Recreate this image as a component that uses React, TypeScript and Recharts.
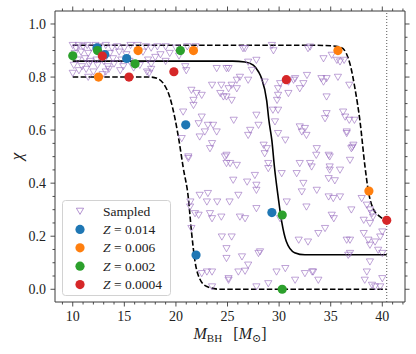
import React from 'react';
import { ComposedChart, XAxis, YAxis, Scatter, Line, ReferenceLine, Legend } from 'recharts';

type P = [number, number];

const sampled: P[] = [
  [10.0,0.92],[10.3,0.91],[10.6,0.92],[11.0,0.915],[11.4,0.92],[11.8,0.91],[12.2,0.92],[12.6,0.915],[13.2,0.92],[13.8,0.91],[14.3,0.915],[15.0,0.91],[15.6,0.92],[16.3,0.92],[17.1,0.915],[17.6,0.91],[18.2,0.915],[19.0,0.915],[20.0,0.91],[21.1,0.915],[21.9,0.915],
  [10.2,0.89],[10.8,0.895],[11.5,0.89],[13.6,0.89],[14.5,0.895],[15.2,0.885],[16.8,0.895],[18.5,0.885],[19.4,0.89],[20.3,0.88],
  [10.5,0.865],[11.2,0.87],[11.7,0.86],[12.3,0.865],[13.0,0.86],[13.9,0.87],[14.7,0.865],[15.5,0.86],[17.3,0.865],[18.0,0.875],[19.0,0.86],
  [10.1,0.845],[10.9,0.84],[11.6,0.85],[12.4,0.845],[13.4,0.84],[14.0,0.85],[14.9,0.84],[16.5,0.845],[17.6,0.85],
  [10.0,0.815],[10.6,0.825],[11.3,0.83],[12.0,0.82],[13.2,0.82],[13.5,0.83],[14.6,0.825],[17.2,0.82],[17.6,0.83],[17.4,0.815],[15.9,0.835],
  [11.5,0.80],[12.9,0.81],[20.9,0.84],[21.0,0.825],
  [23.95,0.833],[24.9,0.833],[21.5,0.751],[22.0,0.739],[22.5,0.732],[21.7,0.713],[21.7,0.694],[23.5,0.77],[24.4,0.77],[24.3,0.739],[24.6,0.726],[25.1,0.757],[20.7,0.669],[22.5,0.65],[22.2,0.625],[23.1,0.619],[23.6,0.619],[23.95,0.594],[22.8,0.594],[22.3,0.575],[23.5,0.55],[23.3,0.531],[20.56,0.569],[21.2,0.494],[24.75,0.5],[24.9,0.475],
  [26.7,0.908],[29.3,0.92],[29.45,0.90],[32.8,0.908],[25.1,0.833],[27.0,0.857],[27.8,0.864],[27.35,0.826],[26.2,0.80],[25.9,0.789],[25.4,0.77],[27.0,0.789],[28.6,0.782],[25.9,0.757],[24.9,0.726],[25.4,0.713],[31.55,0.795],[32.7,0.807],[32.35,0.776],[32.0,0.757],[30.1,0.776],[29.9,0.757],[30.9,0.739],[29.9,0.732],[29.4,0.676],[29.6,0.632],[27.8,0.657],[28.0,0.619],[25.6,0.638],[27.2,0.60],[27.0,0.581],[29.9,0.588],[30.6,0.563],[32.0,0.613],[32.5,0.607],[32.2,0.594],[32.65,0.581],[28.5,0.544],[28.8,0.531],[28.6,0.512],[24.9,0.506],[25.25,0.475],[25.9,0.468],[28.95,0.475],[33.0,0.475],
  [33.0,0.914],[34.3,0.87],[35.1,0.883],[35.6,0.864],[36.3,0.864],[34.1,0.795],[34.3,0.782],[34.6,0.795],[35.7,0.80],[36.8,0.77],[34.6,0.726],[34.6,0.663],[34.45,0.644],[36.2,0.669],[36.4,0.65],[36.8,0.638],[37.3,0.638],[36.55,0.594],[37.2,0.544],[37.0,0.531],[33.6,0.506],[34.8,0.506],[34.9,0.50],[36.87,0.487],[34.9,0.462],
  [30.9,0.782],[31.4,0.789],[35.9,0.858],[26.5,0.908],[29.8,0.713],[29.9,0.676],[31.7,0.437],[32.35,0.40],[33.65,0.531],[36.55,0.588],[37.1,0.536],[35.9,0.45],[32.0,0.475],[33.15,0.462],[33.65,0.374],
  [21.2,0.50],[25.55,0.412],[26.9,0.405],[27.65,0.43],[27.8,0.393],[27.8,0.374],[26.05,0.355],[22.3,0.355],[23.1,0.362],[21.4,0.33],[23.0,0.33],[24.0,0.33],[25.2,0.33],[21.85,0.286],[23.3,0.286],[24.4,0.273],[26.2,0.273],[27.8,0.305],[26.7,0.267],
  [30.25,0.437],[28.95,0.456],[32.2,0.368],[30.74,0.33],[32.65,0.311],[30.1,0.267],[25.4,0.198],[24.9,0.154],[28.15,0.142],[31.9,0.186],[32.8,0.179],[26.4,0.123],[27.0,0.092],[26.05,0.066],[26.7,0.069],[25.1,0.041],[29.75,0.066],[30.6,0.079],[31.55,0.035],[32.5,0.06],[33.2,0.066],[27.8,0.01],[28.95,0.022],[24.9,0.117],[28.0,0.136],
  [21.37,0.311],[22.2,0.28],[23.5,0.267],[21.5,0.23],[24.45,0.198],[23.0,0.066],[23.5,0.066],[22.5,0.06],[23.5,0.01],[25.1,0.035],
  [34.9,0.45],[35.4,0.41],[34.8,0.349],[35.9,0.349],[38.0,0.343],[38.5,0.318],[38.8,0.30],[39.0,0.286],[37.0,0.30],[35.1,0.28],[35.3,0.267],[38.2,0.261],[38.8,0.249],[34.45,0.23],[33.8,0.211],[38.2,0.211],[40.0,0.217],[39.8,0.198],[36.55,0.186],[36.87,0.186],[38.65,0.186],[39.3,0.179],[38.8,0.167],[39.6,0.148],[40.0,0.136],[36.87,0.136],[38.8,0.104],[33.3,0.066],[38.5,0.066],[38.3,0.035],[33.8,0.035],[40.0,0.041],[39.0,0.016],[39.3,0.01],[34.8,0.418],[35.25,0.343],[39.1,0.273],[36.7,0.129],[39.8,0.01],
];

const z014: P[] = [[12.35,0.91],[13.1,0.885],[15.23,0.87],[20.95,0.62],[29.3,0.289],[21.95,0.129]];
const z006: P[] = [[12.5,0.80],[16.33,0.90],[21.7,0.90],[35.7,0.90],[38.7,0.37]];
const z002: P[] = [[10.0,0.88],[12.4,0.90],[16.04,0.85],[20.43,0.90],[30.3,0.28],[30.3,0.0]];
const z0004: P[] = [[12.87,0.879],[15.45,0.80],[19.8,0.82],[30.7,0.79],[40.43,0.26]];

const upperCurve: P[] = [[10,0.92],[33,0.92],[35,0.918],[36,0.912],[36.5,0.89],[36.9,0.845],[37.35,0.757],[37.85,0.63],[38.3,0.47],[38.65,0.37],[39.1,0.305],[39.8,0.273],[40.43,0.26]];
const middleCurve: P[] = [[10,0.86],[25.5,0.86],[26.7,0.857],[27.5,0.845],[28.0,0.82],[28.3,0.795],[28.8,0.71],[29.0,0.64],[29.3,0.56],[29.55,0.46],[29.9,0.35],[30.25,0.255],[30.7,0.18],[31.5,0.138],[32.5,0.13],[40.43,0.13]];
const lowerCurve: P[] = [[10,0.80],[17.5,0.80],[18.3,0.793],[18.8,0.775],[19.4,0.725],[19.9,0.645],[20.3,0.56],[20.7,0.46],[21.2,0.345],[21.5,0.22],[21.85,0.105],[22.3,0.04],[23.0,0.01],[24.3,0.0],[40.43,0.0]];

const maxMass = 40.43;
const xDomain: [number, number] = [8.28, 42.2];
const yDomain: [number, number] = [-0.048, 1.049];
const xMajor = [10, 15, 20, 25, 30, 35, 40];
const xTicks = [9,10,11,12,13,14,15,16,17,18,19,20,21,22,23,24,25,26,27,28,29,30,31,32,33,34,35,36,37,38,39,40,41,42];
const yMajor = [0, 0.2, 0.4, 0.6, 0.8, 1.0];
const yTicks = [0,0.05,0.1,0.15,0.2,0.25,0.3,0.35,0.4,0.45,0.5,0.55,0.6,0.65,0.7,0.75,0.8,0.85,0.9,0.95,1.0];

const legendItems = [
  { label: 'Sampled', kind: 'tri', color: '#9467bd' },
  { label: '0.014', kind: 'dot', color: '#1f77b4' },
  { label: '0.006', kind: 'dot', color: '#ff7f0e' },
  { label: '0.002', kind: 'dot', color: '#2ca02c' },
  { label: '0.0004', kind: 'dot', color: '#d62728' },
];

const toObj = (a: P[]) => a.map(([x, y]) => ({ x, y }));

const FONT = '"Liberation Serif", "DejaVu Serif", serif';
const fs = (size: number, italic = false) => ({ fontFamily: FONT, fontSize: size, fontStyle: italic ? 'italic' : 'normal' });
const AX = '#3a3a3a';
const TRI = '#9467bd';

const isMajor = (v: number, list: number[]) => list.some((m) => Math.abs(m - v) < 1e-6);

const BottomTick = (p: any) => {
  const { x, y, payload } = p;
  const major = isMajor(payload.value, xMajor);
  return (
    <g>
      <line x1={x} x2={x} y1={y} y2={y + (major ? 4.5 : 2.5)} stroke={AX} strokeWidth={0.9} />
      {major && (
        <text x={x} y={y + 19} textAnchor="middle" style={fs(14)} fill="#222">{payload.value}</text>
      )}
    </g>
  );
};
const TopTick = (p: any) => {
  const { x, y, payload } = p;
  const major = isMajor(payload.value, xMajor);
  return <line x1={x} x2={x} y1={y} y2={y - (major ? 4.5 : 2.5)} stroke={AX} strokeWidth={0.9} />;
};
const LeftTick = (p: any) => {
  const { x, y, payload } = p;
  const major = isMajor(payload.value, yMajor);
  return (
    <g>
      <line x1={x} x2={x - (major ? 4.5 : 2.5)} y1={y} y2={y} stroke={AX} strokeWidth={0.9} />
      {major && (
        <text x={x - 9} y={y + 4.6} textAnchor="end" style={fs(14)} fill="#222">{payload.value.toFixed(1)}</text>
      )}
    </g>
  );
};
const RightTick = (p: any) => {
  const { x, y, payload } = p;
  const major = isMajor(payload.value, yMajor);
  return <line x1={x} x2={x + (major ? 4.5 : 2.5)} y1={y} y2={y} stroke={AX} strokeWidth={0.9} />;
};

const TriShape = (p: any) => {
  const { cx, cy } = p;
  if (cx == null || cy == null) return null;
  const w = 3.6;
  return (
    <path
      d={`M${cx - w},${cy - 2.8} L${cx + w},${cy - 2.8} L${cx},${cy + 3.4} Z`}
      fill="none"
      stroke={TRI}
      strokeOpacity={0.6}
      strokeWidth={1}
    />
  );
};

const dotShape = (color: string) => (p: any) => {
  const { cx, cy } = p;
  if (cx == null || cy == null) return null;
  return <circle cx={cx} cy={cy} r={4.6} fill={color} />;
};

const XLabel = (p: any) => {
  const vb = p.viewBox || { x: 55, y: 302, width: 350, height: 52 };
  const cx = vb.x + vb.width / 2;
  const y = vb.y + 37;
  return (
    <text x={cx} y={y} textAnchor="middle" style={fs(16)} fill="#222">
      <tspan style={fs(16, true)}>M</tspan>
      <tspan style={fs(11)} dy={3}>BH</tspan>
      <tspan dy={-3}>{'\u2002\u2009['}</tspan>
      <tspan style={fs(16, true)}>M</tspan>
      <tspan style={fs(11)} dy={3}>{'\u2299'}</tspan>
      <tspan dy={-3}>]</tspan>
    </text>
  );
};

const YLabel = (p: any) => {
  const vb = p.viewBox || { x: 0, y: 11, width: 55, height: 291 };
  const cy = vb.y + vb.height / 2;
  const x = 22;
  return (
    <text x={x} y={cy} textAnchor="middle" style={fs(17, true)} fill="#222" transform={`rotate(-90, ${x}, ${cy})`}>
      χ
    </text>
  );
};

const LegendBox = () => (
  <svg width={110} height={97} style={{ display: 'block' }}>
    <rect x={0.5} y={0.5} width={108} height={95} rx={3} ry={3} fill="rgba(255,255,255,0.85)" stroke="#d2d2d2" strokeWidth={1} />
    {legendItems.map((it, i) => {
      const cy = 11 + i * 18.4;
      return (
        <g key={it.label}>
          {it.kind === 'tri' ? (
            <path d={`M${18 - 3.6},${cy - 2.8} L${18 + 3.6},${cy - 2.8} L18,${cy + 3.4} Z`} fill="none" stroke={TRI} strokeOpacity={0.7} strokeWidth={1} />
          ) : (
            <circle cx={18} cy={cy} r={4.6} fill={it.color} />
          )}
          {it.kind === 'tri' ? (
            <text x={41} y={cy + 4.5} style={fs(13.5)} fill="#222">{it.label}</text>
          ) : (
            <text x={41} y={cy + 4.5} style={fs(13.5)} fill="#222">
              <tspan style={fs(13.5, true)}>Z</tspan>
              <tspan>{` = ${it.label}`}</tspan>
            </text>
          )}
        </g>
      );
    })}
  </svg>
);

export default function App() {
  return (
    <div style={{ position: 'absolute', left: 0, top: 0 }}>
      <ComposedChart width={416} height={354} margin={{ top: 0, right: 0, bottom: 0, left: 0 }}>
        <XAxis
          xAxisId="top"
          orientation="top"
          type="number"
          dataKey="x"
          domain={xDomain}
          allowDataOverflow
          ticks={xTicks}
          interval={0}
          height={11}
          tickSize={0}
          tickMargin={0}
          tickLine={false}
          tick={TopTick}
          axisLine={{ stroke: AX, strokeWidth: 1 }}
        />
        <XAxis
          type="number"
          dataKey="x"
          domain={xDomain}
          allowDataOverflow
          ticks={xTicks}
          interval={0}
          height={52}
          tickSize={0}
          tickMargin={0}
          tickLine={false}
          tick={BottomTick}
          axisLine={{ stroke: AX, strokeWidth: 1 }}
          label={<XLabel />}
        />
        <YAxis
          type="number"
          dataKey="y"
          domain={yDomain}
          allowDataOverflow
          ticks={yTicks}
          interval={0}
          width={55}
          tickSize={0}
          tickMargin={0}
          tickLine={false}
          tick={LeftTick}
          axisLine={{ stroke: AX, strokeWidth: 1 }}
          label={<YLabel />}
        />
        <YAxis
          yAxisId="right"
          orientation="right"
          type="number"
          domain={yDomain}
          allowDataOverflow
          ticks={yTicks}
          interval={0}
          width={11}
          tickSize={0}
          tickMargin={0}
          tickLine={false}
          tick={RightTick}
          axisLine={{ stroke: AX, strokeWidth: 1 }}
        />
        <Scatter data={toObj(sampled)} dataKey="y" shape={TriShape} isAnimationActive={false} />
        <ReferenceLine x={maxMass} stroke="#555" strokeWidth={1} strokeDasharray="1 2" />
        <Line data={toObj(upperCurve)} dataKey="y" type="monotone" stroke="#000" strokeWidth={1.6} strokeDasharray="5.5 2.4" dot={false} activeDot={false} isAnimationActive={false} />
        <Line data={toObj(middleCurve)} dataKey="y" type="monotone" stroke="#000" strokeWidth={1.6} dot={false} activeDot={false} isAnimationActive={false} />
        <Line data={toObj(lowerCurve)} dataKey="y" type="monotone" stroke="#000" strokeWidth={1.6} strokeDasharray="5.5 2.4" dot={false} activeDot={false} isAnimationActive={false} />
        <Scatter data={toObj(z014)} dataKey="y" shape={dotShape('#1f77b4')} isAnimationActive={false} />
        <Scatter data={toObj(z006)} dataKey="y" shape={dotShape('#ff7f0e')} isAnimationActive={false} />
        <Scatter data={toObj(z002)} dataKey="y" shape={dotShape('#2ca02c')} isAnimationActive={false} />
        <Scatter data={toObj(z0004)} dataKey="y" shape={dotShape('#d62728')} isAnimationActive={false} />
        <Legend
          layout="vertical"
          align="center"
          verticalAlign="middle"
          content={() => <LegendBox />}
          wrapperStyle={{ position: 'absolute', left: 62, top: 200, width: 110, height: 97 }}
        />
      </ComposedChart>
    </div>
  );
}
